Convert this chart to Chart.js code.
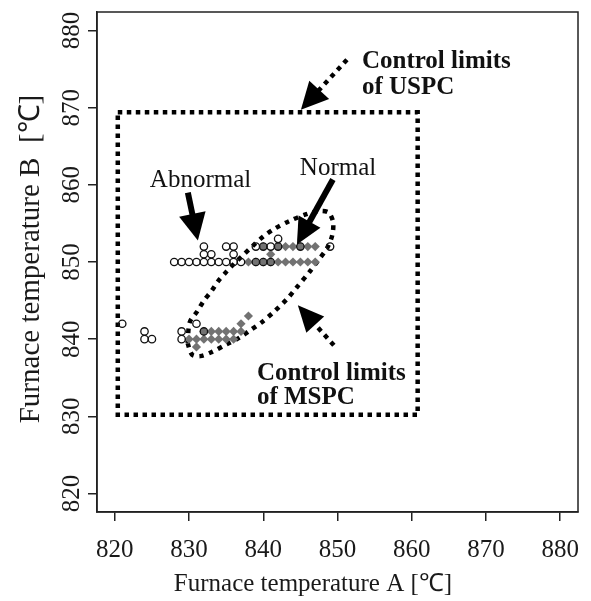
<!DOCTYPE html>
<html>
<head>
<meta charset="utf-8">
<script src="https://cdn.jsdelivr.net/npm/chart.js@4"></script>
<style>
  html, body { margin: 0; padding: 0; background: #fff; }
  #wrap { width: 591px; height: 601px; }
</style>
</head>
<body>
<div id="wrap"><canvas id="furnace-chart"></canvas></div>
<script>
// Tick labels
const xTicks = [820, 830, 840, 850, 860, 870, 880];
const yTicks = [820, 830, 840, 850, 860, 870, 880];

// Normal operation (grey diamonds)
const normalA = [840, 842, 843, 844, 845, 846, 847, 841,
  838, 839, 840, 841, 842, 843, 844, 845, 846, 847,
  838, 837, 832, 833, 834, 835, 836, 837,
  830, 831, 832, 833, 834, 835, 836, 831];
const normalB = [852, 852, 852, 852, 852, 852, 852, 851,
  850, 850, 850, 850, 850, 850, 850, 850, 850, 850,
  843, 842, 841, 841, 841, 841, 841, 841,
  840, 840, 840, 840, 840, 840, 840, 839];

// Abnormal operation (open circles)
const abnormalA = [821, 824, 824, 825, 829, 829, 831, 832,
  828, 829, 830, 831, 832, 833, 834, 835, 836, 837, 839, 840, 841,
  832, 833, 836,
  832, 835, 836, 839, 840, 841, 842, 845, 849,
  842];
const abnormalB = [842, 841, 840, 840, 841, 840, 842, 841,
  850, 850, 850, 850, 850, 850, 850, 850, 850, 850, 850, 850, 850,
  851, 851, 851,
  852, 852, 852, 852, 852, 852, 852, 852, 852,
  853];

// Control limits of USPC (rectangle corners)
const uspcA = [820.4, 860.8, 860.8, 820.4, 820.4];
const uspcB = [869.4, 869.4, 830.2, 830.2, 869.4];

// Control limits of MSPC (ellipse outline)
const mspcA = [829.8, 830.1, 831.1, 832.0, 833.0, 833.9, 835.0, 836.2, 837.3, 838.6,
  840.0, 841.5, 843.5, 845.8, 847.5, 848.8, 849.4, 849.3, 848.6, 847.4,
  846.3, 844.5, 843.2, 841.5, 839.8, 838.3, 836.8, 835.0, 833.0, 831.5, 830.4, 829.8];
const mspcB = [839.5, 842.2, 843.6, 845.0, 846.2, 847.5, 848.7, 849.9, 850.9, 852.1,
  853.3, 854.3, 855.3, 856.2, 856.6, 856.4, 855.2, 853.5, 851.8, 850.2,
  848.8, 846.7, 845.2, 843.6, 842.2, 841.2, 840.2, 839.3, 838.3, 837.8, 838.0, 839.5];

const pts = (xs, ys) => xs.map((v, i) => ({x: v, y: ys[i]}));

// annotations (data units)
const arrows = [
  {from: [851.27, 876.21], to: [845.07, 869.74], dotted: true, len: 27, wid: 27},
  {from: [829.84, 859.0], to: [831.19, 852.79], dotted: false, len: 27, wid: 27},
  {from: [849.38, 860.69], to: [844.53, 852.28], dotted: false, len: 26, wid: 25},
  {from: [849.51, 839.21], to: [844.66, 844.39], dotted: true, len: 26, wid: 24}
];
const labels = [
  {text: 'Control limits', at: [853.29, 875.17], bold: true},
  {text: 'of USPC', at: [853.29, 871.81], bold: true},
  {text: 'Abnormal', at: [824.72, 859.78], bold: false},
  {text: 'Normal', at: [844.93, 861.33], bold: false},
  {text: 'Control limits', at: [839.14, 834.68], bold: true},
  {text: 'of MSPC', at: [839.14, 831.58], bold: true}
];

const serif = '"Liberation Serif", "Times New Roman", serif';

const decorations = {
  id: 'decorations',
  afterDatasetsDraw(chart) {
    const {ctx, scales: {x, y}} = chart;
    ctx.save();
    // arrows
    arrows.forEach(ar => {
      const fx = x.getPixelForValue(ar.from[0]), fy = y.getPixelForValue(ar.from[1]);
      const tx = x.getPixelForValue(ar.to[0]), ty = y.getPixelForValue(ar.to[1]);
      const d = Math.hypot(tx - fx, ty - fy);
      const ux = (tx - fx) / d, uy = (ty - fy) / d;
      const bx = tx - ux * ar.len, by = ty - uy * ar.len;
      ctx.strokeStyle = '#000';
      ctx.lineCap = 'butt';
      if (ar.dotted) {
        ctx.lineWidth = 4.5;
        ctx.setLineDash([4.5, 5]);
      } else {
        ctx.lineWidth = 6;
        ctx.setLineDash([]);
      }
      ctx.beginPath();
      ctx.moveTo(fx, fy);
      ctx.lineTo(bx + ux * 2, by + uy * 2);
      ctx.stroke();
      ctx.setLineDash([]);
      ctx.fillStyle = '#000';
      ctx.beginPath();
      ctx.moveTo(tx, ty);
      ctx.lineTo(bx - uy * ar.wid / 2, by + ux * ar.wid / 2);
      ctx.lineTo(bx + uy * ar.wid / 2, by - ux * ar.wid / 2);
      ctx.closePath();
      ctx.fill();
    });
    // texts
    ctx.fillStyle = '#111';
    ctx.textAlign = 'left';
    ctx.textBaseline = 'alphabetic';
    labels.forEach(l => {
      ctx.font = (l.bold ? 'bold ' : '') + '25px ' + serif;
      ctx.fillText(l.text, x.getPixelForValue(l.at[0]), y.getPixelForValue(l.at[1]));
    });
    ctx.restore();
  },
  afterDraw(chart) {
    const {ctx, chartArea: a, scales: {x, y}} = chart;
    ctx.save();
    ctx.strokeStyle = '#222';
    ctx.lineWidth = 1.5;
    ctx.strokeRect(a.left, a.top, a.right - a.left, a.bottom - a.top);
    ctx.fillStyle = '#1a1a1a';
    ctx.font = '25px ' + serif;
    ctx.textAlign = 'center';
    ctx.textBaseline = 'middle';
    xTicks.forEach(v => ctx.fillText(String(v), x.getPixelForValue(v), a.bottom + 38));
    yTicks.forEach(v => {
      ctx.save();
      ctx.translate(a.left - 25, y.getPixelForValue(v));
      ctx.rotate(-Math.PI / 2);
      ctx.fillText(String(v), 0, 0);
      ctx.restore();
    });
    // axis titles
    ctx.textBaseline = 'alphabetic';
    ctx.fillText('Furnace temperature A [\u2103]', a.left + 216, 591);
    ctx.font = '29px ' + serif;
    ctx.save();
    ctx.translate(39, 259);
    ctx.rotate(-Math.PI / 2);
    ctx.fillText('Furnace temperature B  [\u2103]', 0, 0);
    ctx.restore();
    ctx.restore();
  }
};

const canvas = document.getElementById('furnace-chart');

new Chart(canvas, {
  type: 'scatter',
  data: {
    datasets: [
      {
        label: 'Abnormal',
        data: pts(abnormalA, abnormalB),
        pointStyle: 'circle',
        pointRadius: 3.7,
        pointBorderWidth: 1.3,
        pointBorderColor: '#111',
        pointBackgroundColor: 'rgba(0,0,0,0)',
        order: 0
      },
      {
        label: 'Normal',
        data: pts(normalA, normalB),
        pointStyle: 'rectRot',
        pointRadius: 4.6,
        pointBorderWidth: 0,
        pointBackgroundColor: '#727272',
        order: 1
      },
      {
        label: 'USPC',
        data: pts(uspcA, uspcB),
        showLine: true,
        pointRadius: 0,
        borderColor: '#000',
        borderWidth: 4.5,
        borderDash: [4.5, 4.5],
        borderCapStyle: 'butt',
        order: 2
      },
      {
        label: 'MSPC',
        data: pts(mspcA, mspcB),
        showLine: true,
        tension: 0.3,
        pointRadius: 0,
        borderColor: '#000',
        borderWidth: 4.5,
        borderDash: [4.5, 5.5],
        borderCapStyle: 'butt',
        order: 2
      }
    ]
  },
  options: {
    responsive: true,
    maintainAspectRatio: false,
    animation: false,
    events: [],
    layout: { padding: { left: 88, top: 12, right: 13, bottom: 80 } },
    plugins: {
      legend: { display: false },
      tooltip: { enabled: false }
    },
    scales: {
      x: {
        type: 'linear',
        min: 817.6,
        max: 882.4,
        afterBuildTicks: (s) => { s.ticks = xTicks.map(v => ({value: v})); },
        ticks: { display: false },
        grid: { drawOnChartArea: false, drawTicks: true, tickLength: 9, color: '#222', lineWidth: 1.5 },
        border: { display: true, color: '#222', width: 1.5 }
      },
      y: {
        type: 'linear',
        min: 817.6,
        max: 882.4,
        afterBuildTicks: (s) => { s.ticks = yTicks.map(v => ({value: v})); },
        ticks: { display: false },
        grid: { drawOnChartArea: false, drawTicks: true, tickLength: 9, color: '#222', lineWidth: 1.5 },
        border: { display: true, color: '#222', width: 1.5 }
      }
    }
  },
  plugins: [decorations]
});
</script>
</body>
</html>
